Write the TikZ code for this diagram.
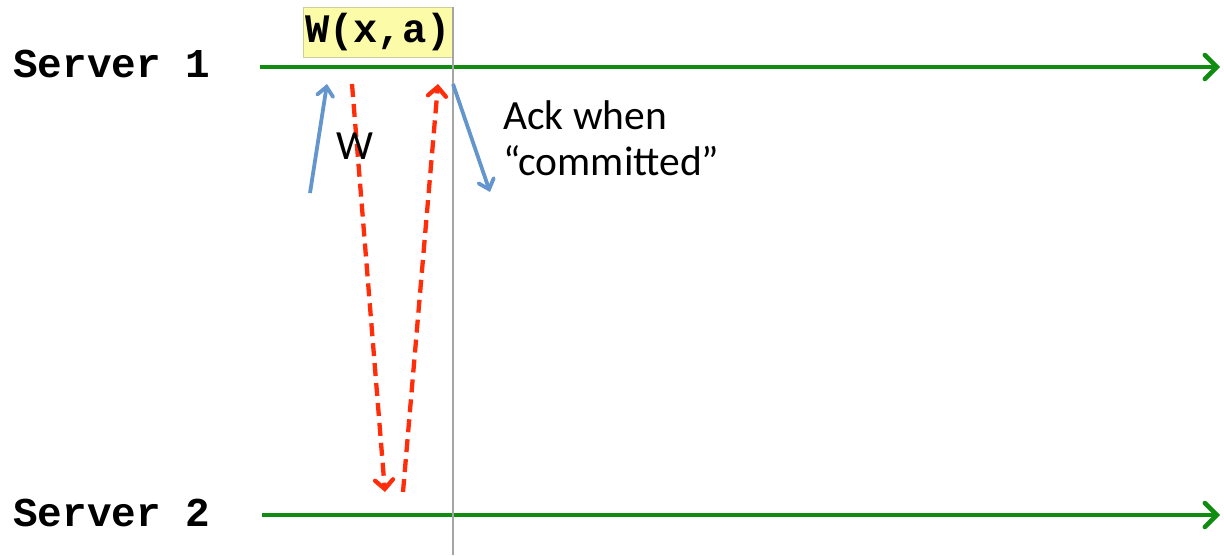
\documentclass[tikz,border=0pt]{standalone}
\usepackage{fontspec}
\setmainfont{Carlito}
\newfontfamily\monob{Liberation Mono}
\usetikzlibrary{arrows.meta}
\definecolor{lgreen}{RGB}{16,140,16}
\definecolor{lblue}{RGB}{100,150,205}
\definecolor{lred}{RGB}{255,45,10}
\definecolor{lyel}{RGB}{252,252,168}
\definecolor{lbord}{RGB}{205,205,160}
\definecolor{lgray}{RGB}{165,165,165}
\tikzset{
  timeline/.style={draw=lgreen,line width=4.5pt,-{Straight Barb[length=12pt,width=24pt,line width=4.5pt,line cap=round]}},
  srvlabel/.style={font=\monob\bfseries\fontsize{41}{44}\selectfont,anchor=base west,inner sep=0pt},
  bluemsg/.style={draw=lblue,line width=3.8pt,-{Straight Barb[length=9pt,width=16pt,line width=3.8pt,line cap=round]}},
  redmsg/.style={draw=lred,line width=4.3pt,dash pattern=on 13pt off 7pt,-{Straight Barb[length=9pt,width=18pt,line width=4.3pt,line cap=round]}},
  opbox/.style={fill=lyel,draw=lbord,line width=1pt,minimum width=150pt,minimum height=50pt,inner sep=0pt,font=\monob\bfseries\fontsize{40.5}{42}\selectfont},
  lbl/.style={font=\fontsize{41.5}{46}\selectfont,inner sep=0pt,align=left}
}
\begin{document}
\begin{tikzpicture}[x=1pt,y=-1pt]
\useasboundingbox (0,0) rectangle (1224,555);
% labels
\node[srvlabel] (s1) at (13,77) {Server 1};
\node[srvlabel] (s2) at (13,526) {Server 2};
% timeline coordinates
\coordinate (a1) at (260,67);
\coordinate (b1) at (1220,67);
\coordinate (a2) at (262,515);
\coordinate (b2) at (1220,515);
\draw[timeline] (a1) -- (b1);
\draw[timeline] (a2) -- (b2);
% op box
\node[opbox] (op) at (378,32) {W(x,a)};
% gray line
\coordinate (g1) at (453,7);
\coordinate (g2) at (453,555);
\draw[lgray,line width=2pt] (g1) -- (g2);
% messages
\coordinate (w0) at (310,193);
\coordinate (w1) at (327,84);
\draw[bluemsg] (w0) -- (w1);
\coordinate (r0) at (352,84);
\coordinate (r1) at (385,492);
\draw[redmsg] (r0) -- (r1);
\coordinate (q0) at (403,492);
\coordinate (q1) at (438,84);
\draw[redmsg] (q0) -- (q1);
\coordinate (k0) at (453,84);
\coordinate (k1) at (490,192);
\draw[bluemsg] (k0) -- (k1);
% text
\node[lbl] (wl) at (355,146) {W};
\node[lbl,anchor=north west] (ack) at (503,100) {Ack when\\“committed”};
\end{tikzpicture}
\end{document}
